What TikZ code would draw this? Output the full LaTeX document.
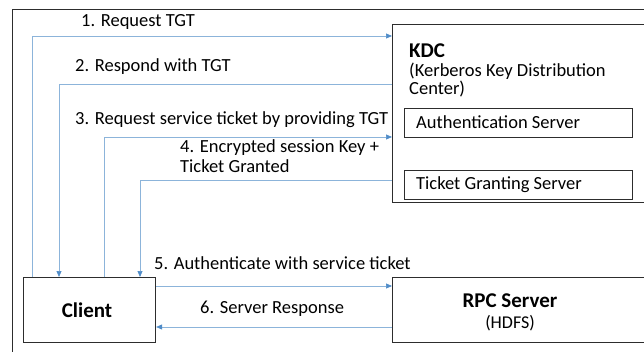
\documentclass[tikz,border=0pt]{standalone}
\usepackage{fontspec}
\setmainfont{Carlito}
\usetikzlibrary{arrows.meta}
\definecolor{flowblue}{RGB}{140,180,218}
\definecolor{tipblue}{RGB}{80,140,200}
\definecolor{boxgray}{RGB}{45,45,45}
\tikzset{
	box/.style={draw=boxgray, line width=1.1pt, anchor=north west, inner sep=0pt},
	flow/.style={draw=flowblue, line width=0.7pt, -{Triangle[length=6pt,width=5pt,color=tipblue]}},
	lbl/.style={anchor=west, inner sep=0pt, font=\fontsize{18.5}{20}\selectfont},
	head/.style={font=\fontsize{21}{24}\selectfont\bfseries}
}
\begin{document}
\begin{tikzpicture}[x=1pt, y=-1pt]
			\useasboundingbox (0, 0) rectangle (644, 352);
			\clip (0, 0) rectangle (644, 352);
			%%outer frame
			\draw[draw=boxgray, line width=0.9pt] (12, 9) rectangle (700, 400);

			%%draw the boxes
			\node[box, minimum width=308pt, minimum height=178pt] (kdc) at (392, 24){};
				\node[lbl, head] (kdcname) at (409, 51){KDC};
				\node[lbl] (kdcfull) at (409, 71){(Kerberos Key Distribution};
				\node[lbl] (kdcfull2) at (409, 89){Center)};
			\node[box, minimum width=228pt, minimum height=29pt] (as) at (404, 108){};
				\node[lbl] (astext) at (416, 122){Authentication Server};
			\node[box, minimum width=228pt, minimum height=29pt] (tgs) at (404, 170){};
				\node[lbl] (tgstext) at (416, 185){Ticket Granting Server};
			\node[box, minimum width=132pt, minimum height=65pt] (client) at (23, 277){};
				\node[head] (clienttext) at (87, 310){Client};
			\node[box, minimum width=308pt, minimum height=65pt] (rpc) at (392, 277){};
				\node[head] (rpctext) at (510, 301){RPC Server};
				\node[font=\fontsize{18}{20}\selectfont] (rpcsub) at (510, 323){(HDFS)};

			%%rails of the messages
			\coordinate (r1) at (32, 36);
			\coordinate (r2) at (59, 84);
			\coordinate (r3) at (104, 137);
			\coordinate (r4) at (140, 180);
			\coordinate (r5) at (0, 286);
			\coordinate (r6) at (0, 327);

			%%client and KDC
			\draw[flow] (client.north -| r1) |- (kdc.west |- r1);
				\node[lbl] (m1) at (81, 22){1. Request TGT};
			\draw[flow] (kdc.west |- r2) -| (client.north -| r2);
				\node[lbl] (m2) at (75, 67){2. Respond with TGT};
			\draw[flow] (client.north -| r3) |- (kdc.west |- r3);
				\node[lbl] (m3) at (75, 120){3. Request service ticket by providing TGT};
			\draw[flow] (kdc.west |- r4) -| (client.north -| r4);
				\node[lbl] (m4) at (180, 148){4. Encrypted session Key +};
				\node[lbl] (m4b) at (180, 166){Ticket Granted};

			%%client and RPC server
			\draw[flow] (client.east |- r5) -- (rpc.west |- r5);
				\node[lbl] (m5) at (154, 263){5. Authenticate with service ticket};
			\draw[flow] (rpc.west |- r6) -- (client.east |- r6);
				\node[lbl] (m6) at (200, 309){6. Server Response};
\end{tikzpicture}
\end{document}
